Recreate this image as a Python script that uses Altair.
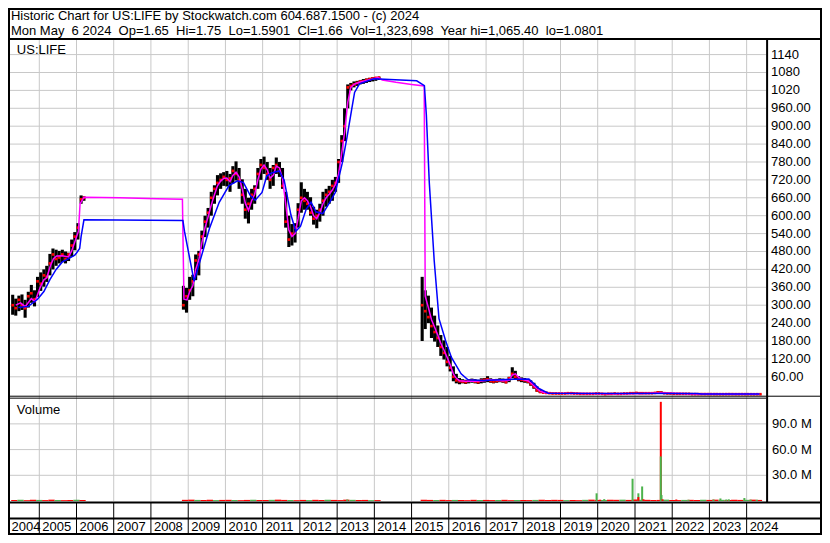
import altair as alt
import pandas as pd

# ------------------------------------------------------------------ text
title_line1 = "Historic Chart for US:LIFE by Stockwatch.com 604.687.1500 - (c) 2024"
title_line2 = ("Mon May\u00a0 6 2024\u00a0 Op=1.65\u00a0 Hi=1.75\u00a0 Lo=1.5901\u00a0 Cl=1.66\u00a0 "
               "Vol=1,323,698\u00a0 Year hi=1,065.40\u00a0 lo=1.0801")
symbol_label = "US:LIFE"
volume_label = "Volume"

price_ticks = [60, 120, 180, 240, 300, 360, 420, 480, 540, 600, 660, 720, 780, 840, 900, 960, 1020, 1080, 1140]
price_tick_labels = ["60.00", "120.00", "180.00", "240.00", "300.00", "360.00", "420.00", "480.00", "540.00",
                     "600.00", "660.00", "720.00", "780.00", "840.00", "900.00", "960.00", "1020", "1080", "1140"]
vol_ticks = [30e6, 60e6, 90e6]
vol_tick_labels = ["30.0 M", "60.0 M", "90.0 M"]
year_labels = ["2004", "2005", "2006", "2007", "2008", "2009", "2010", "2011", "2012", "2013", "2014",
               "2015", "2016", "2017", "2018", "2019", "2020", "2021", "2022", "2023", "2024"]
year_label_dates = ["2004-03-05", "2005-01-01", "2006-01-01", "2007-01-01", "2008-01-01", "2009-01-01",
                    "2010-01-01", "2011-01-01", "2012-01-01", "2013-01-01", "2014-01-01", "2015-01-01",
                    "2016-01-01", "2017-01-01", "2018-01-01", "2019-01-01", "2020-01-01", "2021-01-01",
                    "2022-01-01", "2023-01-01", "2024-01-01"]
year_start_dates = year_label_dates[1:]

# ------------------------------------------------------------------ monthly price bars
bar_low = [
    # 2004-04 .. 2006-03
    268, 265, 280, 284, 258, 292, 308, 296, 328,
    348, 362, 378, 400, 420, 432, 440, 444, 440, 448, 462, 484,
    520, 640, 650,
    # 2008-11 .. 2014-02
    285, 275,
    318, 330, 384, 400, 488, 528, 560, 600, 640, 668, 690, 700,
    698, 680, 708, 718, 690, 640, 590, 574, 620, 640, 690, 720,
    740, 720, 690, 700, 740, 730, 690, 560, 495, 500, 510, 560,
    610, 620, 620, 600, 570, 558, 580, 600, 630, 640, 650, 680,
    710, 780, 850, 960, 1020, 1030, 1035, 1040, 1042, 1045, 1048, 1050,
    1052, 1055,
    # 2015-04 .. 2024-05
    180, 220, 240, 190, 178, 160, 130, 118, 95,
    78, 45, 38, 35, 38, 36, 38, 40, 38, 36, 38, 40,
    42, 40, 38, 40, 42, 40, 38, 42, 55, 52, 45, 42,
    40, 38, 30, 20, 10, 6, 5, 4, 3, 3, 3, 2,
    2, 3, 3, 3, 3, 2, 2, 2, 2, 2, 2, 2,
    2, 2, 1, 1, 2, 2, 2, 2, 2, 2, 3, 3,
    3, 3, 3, 3, 3, 3, 4, 5, 4, 3, 3, 2,
    2, 2, 2, 2, 2, 2, 1, 1, 1, 1, 1, 1,
    1.2, 1.2, 1.1, 1.1, 1.0, 1.1, 1.2, 1.1, 1.1, 1.0, 1.1, 1.1,
    1.1, 1.2, 1.1, 1.1, 1.1,
]
bar_high = [
    335, 322, 332, 336, 318, 345, 368, 350, 395,
    410, 420, 432, 472, 490, 486, 482, 486, 480, 476, 520, 545,
    575, 668, 665,
    365, 358,
    395, 402, 470, 482, 550, 600, 626, 680, 702, 736, 742, 746,
    750, 740, 766, 782, 760, 722, 690, 660, 690, 702, 760, 790,
    798, 780, 760, 770, 795, 780, 760, 680, 600, 572, 575, 642,
    712, 690, 680, 662, 630, 620, 640, 680, 690, 700, 720, 730,
    790, 870, 960, 1040, 1045, 1050, 1052, 1055, 1058, 1060, 1062, 1064,
    1065, 1066,
    395, 350, 332, 292, 265, 232, 200, 182, 160,
    130, 95, 70, 56, 52, 50, 52, 54, 52, 50, 55, 56,
    62, 55, 52, 53, 55, 54, 50, 60, 92, 80, 62, 58,
    56, 52, 48, 40, 28, 18, 12, 10, 8, 7, 7, 6,
    6, 6, 7, 9, 7, 6, 6, 5, 5, 5, 5, 6,
    6, 5, 4, 4, 5, 6, 5, 5, 6, 6, 8, 8,
    9, 8, 8, 7, 7, 8, 9, 12, 11, 8, 7, 6,
    6, 5, 5, 5, 4, 4, 4, 4, 3, 3, 3, 3,
    3.2, 3.0, 3.0, 2.9, 2.8, 3.0, 3.1, 2.9, 2.8, 2.7, 2.8, 2.9,
    2.6, 2.4, 2.2, 2.0, 1.8,
]
bar_close = [
    300, 290, 318, 300, 290, 330, 340, 320, 380,
    372, 400, 395, 440, 470, 455, 460, 470, 455, 470, 500, 530,
    560, 655, 660,
    300, 330,
    350, 380, 450, 470, 530, 580, 610, 660, 690, 710, 720, 730,
    720, 725, 750, 740, 720, 670, 620, 640, 670, 690, 740, 770,
    760, 740, 720, 760, 770, 750, 700, 580, 520, 540, 560, 620,
    660, 650, 640, 610, 590, 600, 620, 650, 670, 680, 700, 710,
    780, 850, 900, 1030, 1035, 1040, 1045, 1050, 1050, 1055, 1058, 1060,
    1062, 1063,
    300, 280, 260, 230, 210, 190, 160, 140, 110,
    90, 60, 48, 45, 44, 42, 46, 48, 44, 42, 48, 50,
    52, 46, 44, 46, 48, 46, 42, 55, 70, 60, 52, 50,
    48, 44, 36, 26, 14, 9, 7, 6, 5, 4, 4, 4,
    4, 4, 5, 5, 4, 4, 3, 3, 3, 3, 3, 4,
    4, 3, 2, 3, 3, 4, 3, 3, 4, 4, 5, 5,
    6, 5, 5, 5, 5, 5, 6, 8, 7, 5, 4, 4,
    3, 3, 3, 3, 3, 3, 2, 2, 2, 2, 2, 2,
    2.0, 1.9, 1.9, 1.8, 1.8, 1.9, 2.0, 1.9, 1.8, 1.8, 1.9, 1.8,
    1.8, 1.7, 1.6, 1.7, 1.66,
]

# ------------------------------------------------------------------ moving averages
ma_short_dates = [
    "2004-05-15", "2004-07-01", "2004-08-15", "2004-10-15", "2004-11-20", "2005-01-10", "2005-02-15",
    "2005-03-15", "2005-04-20", "2005-05-20", "2005-06-20", "2005-08-15", "2005-10-15", "2005-11-15",
    "2005-12-15", "2006-01-20", "2006-02-05", "2006-03-15", "2007-03-01", "2008-03-01", "2008-11-05",
    "2008-11-20", "2008-12-20", "2009-01-15", "2009-02-15", "2009-03-15", "2009-04-15", "2009-05-15",
    "2009-06-15", "2009-07-15", "2009-08-15", "2009-09-15", "2009-10-15", "2009-11-15", "2009-12-15",
    "2010-01-15", "2010-02-15", "2010-03-15", "2010-04-15", "2010-05-15", "2010-06-15", "2010-07-15",
    "2010-08-15", "2010-09-15", "2010-10-15", "2010-11-15", "2010-12-15", "2011-01-15", "2011-02-15",
    "2011-03-15", "2011-04-15", "2011-05-15", "2011-06-15", "2011-07-15", "2011-08-15", "2011-09-15",
    "2011-10-15", "2011-11-15", "2011-12-15", "2012-01-15", "2012-02-15", "2012-03-15", "2012-04-15",
    "2012-05-15", "2012-06-15", "2012-07-15", "2012-08-15", "2012-09-15", "2012-10-15", "2012-11-15",
    "2012-12-15", "2013-01-15", "2013-02-15", "2013-03-15", "2013-04-15", "2013-05-15", "2013-06-15",
    "2013-08-15", "2013-10-15", "2013-12-15", "2014-02-05", "2014-03-20", "2014-08-01", "2015-01-01",
    "2015-05-05", "2015-05-15", "2015-06-15", "2015-07-15", "2015-08-15", "2015-09-15", "2015-10-15",
    "2015-11-15", "2015-12-15", "2016-01-15", "2016-02-15", "2016-03-15", "2016-04-15", "2016-06-15",
    "2016-09-15", "2016-12-15", "2017-02-15", "2017-06-15", "2017-08-15", "2017-09-15", "2017-10-15",
    "2017-11-15", "2017-12-15", "2018-02-15", "2018-03-15", "2018-04-15", "2018-05-15", "2018-06-15",
    "2018-07-15", "2018-09-15", "2019-06-15", "2020-06-15", "2021-03-15", "2021-09-15", "2022-06-15",
    "2022-10-15", "2023-06-15", "2024-05-06",
]
ma_short_vals = [
    300, 308, 295, 322, 312, 360, 385,
    392, 432, 456, 465, 466, 462, 482,
    512, 548, 640, 662, 660, 657, 655,
    320, 318, 345, 365, 420, 452, 510,
    560, 596, 636, 670, 700, 716, 725,
    726, 714, 735, 746, 730, 690, 642,
    618, 650, 672, 720, 756, 770, 754,
    726, 735, 766, 760, 724, 640, 552,
    530, 540, 590, 650, 660, 650, 630,
    600, 590, 610, 640, 660, 672, 686,
    705, 740, 810, 880, 980, 1030, 1040,
    1048, 1053, 1058, 1063, 1055, 1047, 1040,
    1035, 330, 292, 252, 226, 200, 172,
    150, 126, 100, 70, 55, 47, 45,
    45, 47, 50, 47, 48, 66, 70,
    58, 52, 47, 40, 30, 20, 12,
    8, 5, 4, 3, 4, 6, 3,
    2, 1.5, 1.5,
]
ma_long_dates = [
    "2004-06-10", "2004-09-15", "2004-12-15", "2005-02-15", "2005-04-15", "2005-06-15", "2005-08-15",
    "2005-10-15", "2005-12-15", "2006-01-01", "2006-02-01", "2006-02-15", "2006-03-15", "2008-11-10",
    "2008-11-25", "2009-02-28", "2009-07-29", "2009-11-01", "2010-02-05", "2010-04-30", "2010-06-27",
    "2010-09-01", "2010-10-20", "2010-12-26", "2011-02-10", "2011-03-29", "2011-06-12", "2011-07-31",
    "2011-10-05", "2011-11-22", "2012-01-07", "2012-03-04", "2012-04-20", "2012-06-06", "2012-08-13",
    "2012-10-20", "2012-12-14", "2013-02-20", "2013-04-08", "2013-05-26", "2013-06-21", "2013-08-08",
    "2013-12-27", "2015-02-20", "2015-05-07", "2015-05-26", "2015-06-24", "2015-08-11", "2015-09-27",
    "2015-12-02", "2016-01-27", "2016-05-01", "2016-07-08", "2016-12-01", "2017-06-01", "2017-10-01",
    "2018-02-25", "2018-05-30", "2018-09-02", "2022-09-01", "2022-10-15", "2024-05-06",
]
ma_long_vals = [
    292, 296, 320, 346, 386, 420, 445,
    456, 468, 475, 490, 530, 586, 584,
    548, 380, 558, 645, 701, 717, 711,
    668, 652, 678, 733, 743, 750, 720,
    603, 548, 564, 622, 645, 613, 607,
    645, 678, 776, 863, 961, 1013, 1042,
    1059, 1052, 1036, 938, 710, 450, 255,
    180, 125, 70, 50, 48, 50, 52,
    53, 22, 5, 4, 2, 2,
]

# ------------------------------------------------------------------ volume (shares, millions)
vol_strip_vals_m = [
    1.2, 1.5, 1.0, 1.4, 1.3, 1.1, 1.6, 1.2, 1.0, 1.3, 1.5, 1.2,
    1.4, 1.6, 1.3, 1.2, 1.5, 1.1, 1.3, 1.4, 1.2, 1.0, 1.3, 1.5, 1.2, 1.1, 1.4, 1.6,
    1.3, 1.2, 1.0, 1.3, 1.1, 1.4, 1.2, 1.5, 1.3, 1.1, 1.6, 1.4, 1.2, 1.3, 1.0, 1.1,
    1.5, 1.3, 1.2, 1.4, 1.1, 1.3, 1.2, 1.0, 1.4, 1.2, 1.3, 1.1, 1.2, 1.4, 1.0, 1.3,
    1.2, 1.1, 1.3, 1.5, 1.2, 1.4, 1.3, 1.1, 1.2, 1.0, 1.4, 1.6, 1.3, 1.2, 1.5, 1.4,
    1.6, 1.3, 1.8, 1.5, 1.4, 1.2, 1.3, 1.6, 1.2, 1.1, 1.3, 1.4, 1.2, 1.5, 1.3, 1.6,
    1.4, 1.2, 1.5, 1.3, 1.4, 1.6, 1.3,
]
vol_strip_dirs = list(
    "dudduddudd" "ud"
    "ddudduddud" "dudduddudd" "uddudddudd" "ud"
    "dduddudddu" "ddudduddud" "dddudduddu" "dduddudddu" "ddudduddud" "ddudd"
)
spike_dates = ["2013-04-10", "2019-12-21", "2020-01-25", "2020-03-05", "2020-12-08", "2021-02-03",
               "2021-02-03", "2021-03-12", "2021-03-25", "2021-09-11", "2021-09-11", "2021-09-18",
               "2021-09-28", "2022-02-10", "2022-06-10", "2023-02-10", "2023-04-19", "2023-06-15",
               "2023-07-10", "2023-12-10", "2024-02-10", "2024-04-10"]
spike_vals_m = [1.8, 9.0, 1.5, 2.2, 26.0, 9.0, 4.6, 17.0, 2.0, 115.7, 52.0, 7.0,
                2.0, 1.8, 1.5, 1.8, 3.0, 1.8, 2.0, 3.5, 1.6, 1.6]
spike_dirs = ["u", "u", "d", "u", "u", "u", "d", "u", "d", "d", "u", "u",
              "d", "d", "u", "u", "u", "u", "u", "u", "u", "u"]

# ------------------------------------------------------------------ tables
bar_dates = list(pd.date_range("2004-04-01", "2006-03-01", freq="MS")) + \
            list(pd.date_range("2008-11-01", "2014-02-01", freq="MS")) + \
            list(pd.date_range("2015-04-01", "2024-05-01", freq="MS"))
bar_dates = [(d + pd.Timedelta(days=14)).strftime("%Y-%m-%d") for d in bar_dates]
assert len(bar_dates) == len(bar_low) == len(bar_high) == len(bar_close)
bars = pd.DataFrame({"d": bar_dates, "lo": bar_low, "hi": bar_high, "cl": bar_close})

ma_s = pd.DataFrame({"d": ma_short_dates, "v": ma_short_vals})
ma_l = pd.DataFrame({"d": ma_long_dates, "v": ma_long_vals})

strip_dates = list(pd.date_range("2004-05-01", "2006-03-01", freq="2MS")) + \
              list(pd.date_range("2008-12-01", "2014-02-01", freq="2MS")) + \
              list(pd.date_range("2015-05-01", "2024-05-01", freq="2MS"))
strip_dates = [d.strftime("%Y-%m-%d") for d in strip_dates]
assert len(strip_dates) == len(vol_strip_vals_m) == len(vol_strip_dirs)
dir_name = {"u": "up", "d": "down"}
strip = pd.DataFrame({"d": strip_dates, "v": [v * 1e6 for v in vol_strip_vals_m],
                      "c": [dir_name[c] for c in vol_strip_dirs]})
spikes = pd.DataFrame({"d": spike_dates, "v": [v * 1e6 for v in spike_vals_m],
                       "c": [dir_name[c] for c in spike_dirs]})

pticks = pd.DataFrame({"v": price_ticks, "t": price_tick_labels})
vticks = pd.DataFrame({"v": vol_ticks, "t": vol_tick_labels})
ylab = pd.DataFrame({"d": year_label_dates, "t": year_labels})
ystart = pd.DataFrame({"d": year_start_dates})
one = pd.DataFrame({"a": [0]})

# ------------------------------------------------------------------ layout
W, H = 814, 527
SX, SY = W / 830, H / 543


def px(v):
    return round(v * SX, 2)


def py(v):
    return round(v * SY, 2)


XR = px(773)
FONT = "Liberation Sans"
GRID = "#c8c8c8"

xs = alt.Scale(domain=[alt.DateTime(year=2004, month=4, date=18), alt.DateTime(year=2024, month=5, date=22)],
               range=[0, XR])
ps = alt.Scale(domain=[-5.06, 1188.8], range=[py(400), py(33)])
vs = alt.Scale(domain=[0, 120e6], range=[py(508), py(402)])
X = alt.X("d:T", scale=xs, axis=None)

layers = []

# grid
layers.append(alt.Chart(ystart).mark_rule(color=GRID, strokeWidth=1).encode(
    x=X, y=alt.value(py(33)), y2=alt.value(py(508))))
layers.append(alt.Chart(pticks).mark_rule(color=GRID, strokeWidth=1).encode(
    y=alt.Y("v:Q", scale=ps, axis=None), x=alt.value(0), x2=alt.value(XR)))
layers.append(alt.Chart(vticks).mark_rule(color=GRID, strokeWidth=1).encode(
    y=alt.Y("v:Q", scale=vs, axis=None), x=alt.value(0), x2=alt.value(XR)))

# price bars
layers.append(alt.Chart(bars).mark_rule(color="black", strokeWidth=3.1).encode(
    x=X, y=alt.Y("lo:Q", scale=ps, axis=None), y2="hi:Q"))
layers.append(alt.Chart(bars).mark_square(color="#ff0000", size=7, opacity=1).encode(
    x=X, y=alt.Y("cl:Q", scale=ps, axis=None)))

# moving averages
layers.append(alt.Chart(ma_s).mark_line(color="#ff00ff", strokeWidth=1.5).encode(
    x=X, y=alt.Y("v:Q", scale=ps, axis=None)))
layers.append(alt.Chart(ma_l).mark_line(color="#0000ff", strokeWidth=1.5).encode(
    x=X, y=alt.Y("v:Q", scale=ps, axis=None)))

# volume (overlapping, not stacked)
vcol = alt.Color("c:N", scale=alt.Scale(domain=["down", "up"], range=["#ff0000", "#4cb24c"]), legend=None)
layers.append(alt.Chart(strip).mark_bar(size=6.3).encode(
    x=X, y=alt.Y("v:Q", scale=vs, axis=None, stack=None), color=vcol))
layers.append(alt.Chart(spikes).mark_bar(size=2).encode(
    x=X, y=alt.Y("v:Q", scale=vs, axis=None, stack=None), color=vcol))

# right axis labels
layers.append(alt.Chart(pticks).mark_text(align="left", baseline="middle", font=FONT, fontSize=13,
                                          color="#000000").encode(
    x=alt.value(px(778)), y=alt.Y("v:Q", scale=ps, axis=None), text="t:N"))
layers.append(alt.Chart(vticks).mark_text(align="left", baseline="middle", font=FONT, fontSize=13,
                                          color="#000000").encode(
    x=alt.value(px(779)), y=alt.Y("v:Q", scale=vs, axis=None), text="t:N"))


# frame lines
def hline(y, x1, x2, w):
    return alt.Chart(one).mark_rule(color="black", strokeWidth=w).encode(
        x=alt.value(x1), x2=alt.value(x2), y=alt.value(y))


def vline(x, y1, y2, w):
    return alt.Chart(one).mark_rule(color="black", strokeWidth=w).encode(
        x=alt.value(x), y=alt.value(y1), y2=alt.value(y2))


layers += [
    hline(py(32), 0, W, 2),
    hline(py(400), 0, W, 1),
    hline(py(402), 0, XR, 1),
    hline(py(509) + 0.5, 0, W, 2),
    hline(py(526), 0, W, 2),
    vline(XR + 1, py(32), py(509), 2),
]
layers.append(alt.Chart(ystart).mark_rule(color="black", strokeWidth=1).encode(
    x=X, y=alt.value(py(509)), y2=alt.value(py(542))))
layers.append(alt.Chart(one).mark_rect(fillOpacity=0, stroke="black", strokeWidth=2).encode(
    x=alt.value(1), x2=alt.value(W - 1), y=alt.value(1), y2=alt.value(H - 1)))

# year labels
layers.append(alt.Chart(ylab).mark_text(align="left", baseline="alphabetic", dx=3, font=FONT,
                                        fontSize=13, color="black").encode(
    x=X, y=alt.value(py(539)), text="t:N"))


# header and panel captions
def label(txt, x, y):
    return alt.Chart(one).mark_text(align="left", baseline="alphabetic", font=FONT, fontSize=13,
                                    color="black", text=txt).encode(x=alt.value(x), y=alt.value(y))


layers += [
    label(title_line1, px(3), py(12.5)),
    label(title_line2, px(3), py(27.5)),
    label(symbol_label, px(9), py(47)),
    label(volume_label, px(9), py(418)),
]

chart = alt.layer(*layers).resolve_scale(y="independent").properties(
    width=W, height=H, padding=0, autosize=alt.AutoSizeParams(type="none"), background="white"
).configure_view(strokeWidth=0)

chart.save("out.html", embed_options={"renderer": "svg", "actions": False})
